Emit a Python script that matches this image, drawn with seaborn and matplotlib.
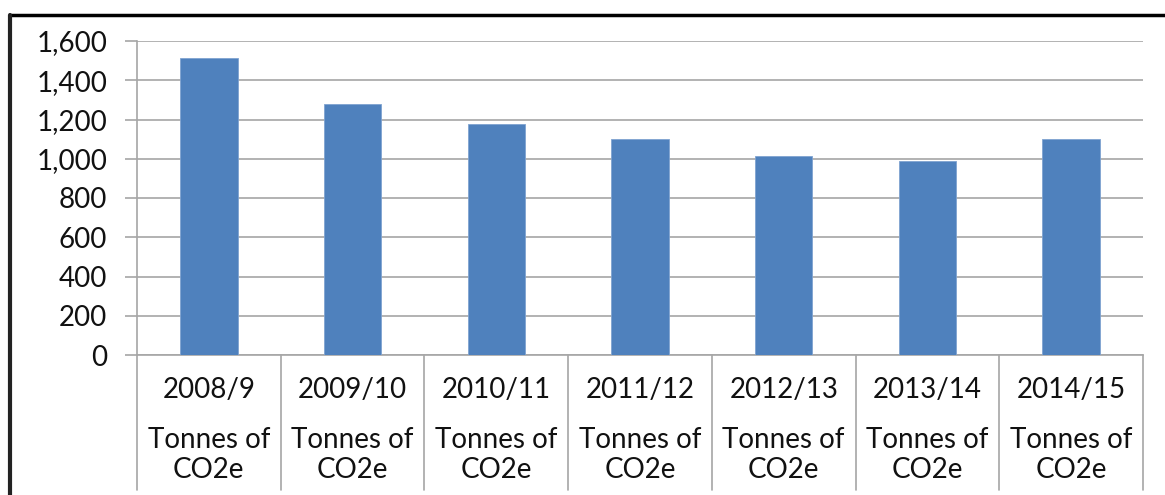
import matplotlib
matplotlib.use("Agg")
import matplotlib.pyplot as plt
import matplotlib.transforms as mtransforms
from matplotlib.lines import Line2D
from matplotlib.ticker import FuncFormatter, MultipleLocator
import seaborn as sns
import pandas as pd

years = ["2008/9", "2009/10", "2010/11", "2011/12", "2012/13", "2013/14", "2014/15"]
unit_lines = ["Tonnes of", "CO2e"]
values = [1513, 1279, 1178, 1101, 1015, 990, 1102]

sns.set_theme(style="white")
plt.rcParams["font.family"] = ["Lato", "DejaVu Sans"]

df = pd.DataFrame({"year": years, "value": values})

fig = plt.figure(figsize=(11.65, 4.95), dpi=100)
ax = fig.add_axes([137/1165, 1 - 355/495, (1143-137)/1165, (355-41)/495])

sns.barplot(data=df, x="year", y="value", color="#4F81BD", saturation=1,
            width=0.4, ax=ax, edgecolor="#7FA3D0", linewidth=0.6, zorder=3)

grid_c = "#A6A6A6"
txt_c = "#111111"
fs = 20
ax.set_ylim(0, 1600)
ax.set_xlim(-0.5, len(years) - 0.5)
ax.yaxis.set_major_locator(MultipleLocator(200))
ax.yaxis.set_major_formatter(FuncFormatter(lambda v, p: f"{int(v):,}"))
ax.grid(axis="y", color=grid_c, linewidth=1.2, zorder=0)
ax.grid(axis="x", visible=False)
for s in ["top", "right"]:
    ax.spines[s].set_visible(False)
ax.spines["left"].set_color(grid_c)
ax.spines["bottom"].set_color(grid_c)
ax.spines["left"].set_linewidth(1.2)
ax.spines["bottom"].set_linewidth(1.2)
ax.tick_params(axis="y", left=True, length=8.5, width=1.2, color=grid_c,
               labelsize=fs, labelcolor=txt_c, pad=13)
ax.tick_params(axis="x", bottom=False, labelbottom=False)
ax.set_xlabel("")
ax.set_ylabel("")

trans = mtransforms.blended_transform_factory(ax.transData, ax.transAxes)
ax_h = 314.0
for i in range(len(years) + 1):
    ax.add_line(Line2D([i - 0.5, i - 0.5], [0, -(490 - 355) / ax_h],
                       transform=trans, color=grid_c, linewidth=1.2, clip_on=False))
for i, y in enumerate(years):
    ax.text(i, -(390 - 355) / ax_h, y, transform=trans, ha="center", va="center",
            fontsize=fs, color=txt_c)
    ax.text(i, -(440 - 355) / ax_h, unit_lines[0], transform=trans, ha="center", va="center",
            fontsize=fs, color=txt_c)
    ax.text(i, -(470 - 355) / ax_h, unit_lines[1], transform=trans, ha="center", va="center",
            fontsize=fs, color=txt_c)

# outer frame (top and left)
fig.add_artist(Line2D([10/1165, 1], [1 - 15/495, 1 - 15/495], transform=fig.transFigure,
                      color="black", linewidth=2.5))
fig.add_artist(Line2D([10/1165, 10/1165], [0, 1 - 15/495], transform=fig.transFigure,
                      color="#222222", linewidth=3))

fig.savefig("out.png", dpi=100)
